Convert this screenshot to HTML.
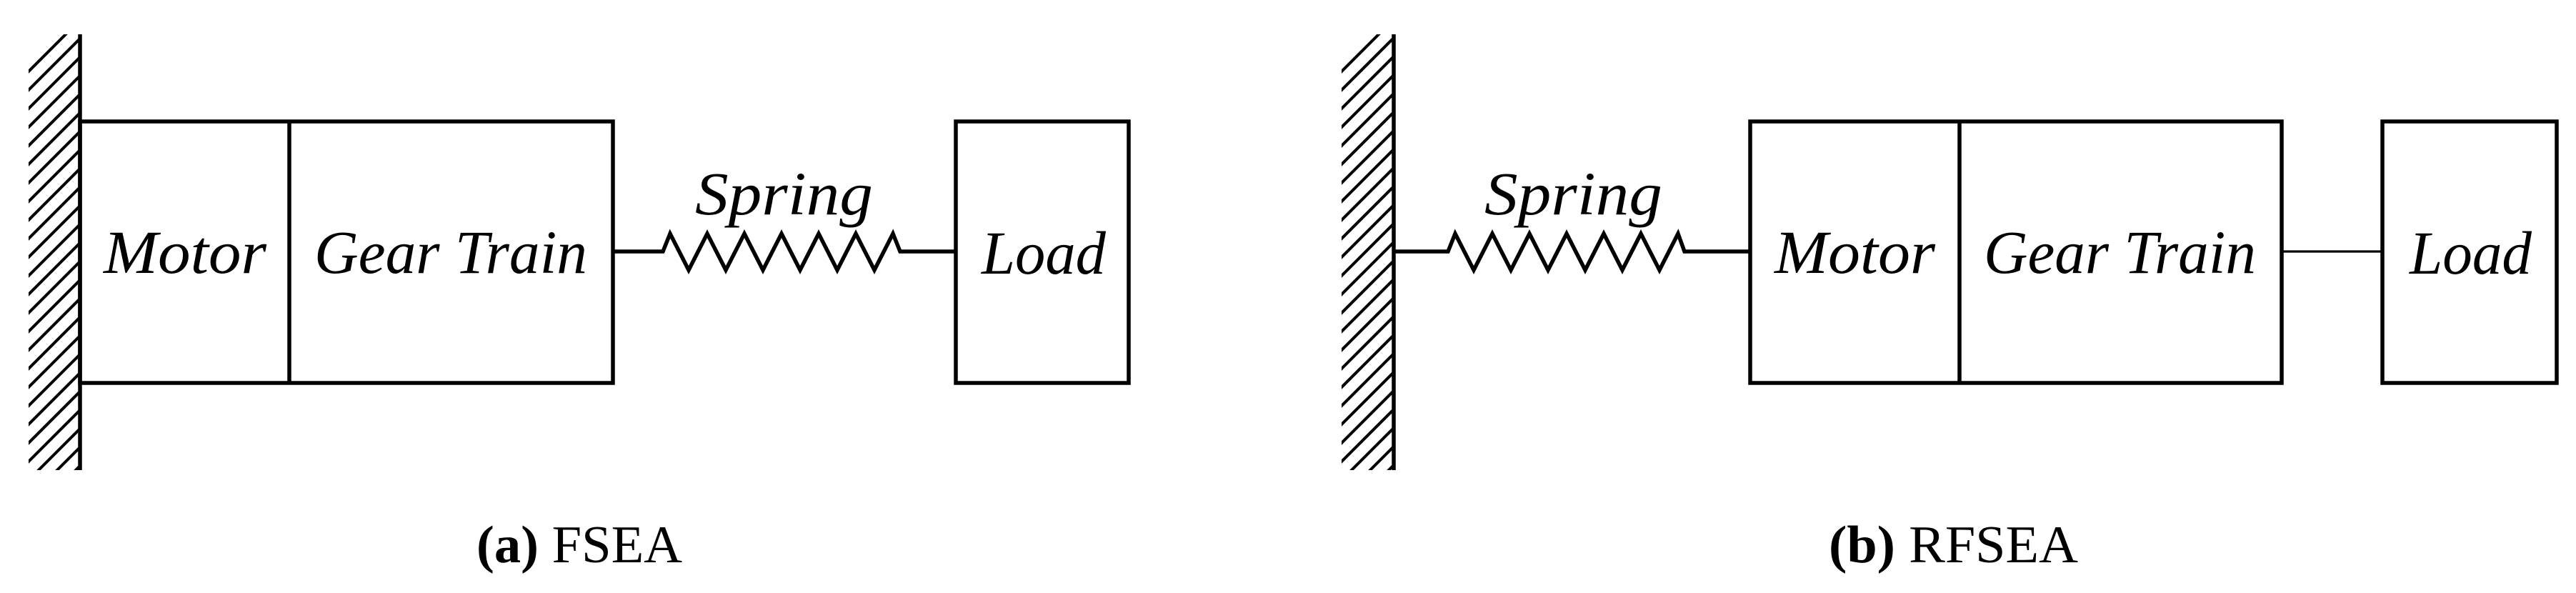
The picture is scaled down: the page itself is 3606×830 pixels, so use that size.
<!DOCTYPE html>
<html><head><meta charset="utf-8"><style>
html,body{margin:0;padding:0;background:#fff;}
svg{display:block;}
text{font-family:"Liberation Serif",serif;font-style:italic;fill:#000;}
</style></head><body>
<svg width="3606" height="830" viewBox="0 0 3606 830" xmlns="http://www.w3.org/2000/svg">
<defs>
<clipPath id="wa"><rect x="40" y="48" width="72" height="610"/></clipPath>
<clipPath id="wb"><rect x="1878" y="48" width="73" height="610"/></clipPath>
</defs>
<g stroke="#000" stroke-width="4" clip-path="url(#wa)">
<path d="M20,120 L140,0 M20,146 L160,6 M20,172 L180,12 M20,198 L200,18 M20,224 L200,44 M20,250 L200,70 M20,276 L200,96 M20,302 L200,122 M20,328 L200,148 M20,354 L200,174 M20,380 L200,200 M20,406 L200,226 M20,432 L200,252 M20,458 L200,278 M20,484 L200,304 M20,510 L200,330 M20,536 L200,356 M20,562 L200,382 M20,588 L200,408 M20,614 L200,434 M20,640 L200,460 M20,666 L200,486 M20,692 L200,512 M20,718 L200,538 M20,744 L200,564 M20,770 L200,590 M20,796 L200,616"/>
</g>
<g stroke="#000" stroke-width="4" clip-path="url(#wb)">
<path d="M1858,120 L1978,0 M1858,146 L1998,6 M1858,172 L2018,12 M1858,198 L2038,18 M1858,224 L2038,44 M1858,250 L2038,70 M1858,276 L2038,96 M1858,302 L2038,122 M1858,328 L2038,148 M1858,354 L2038,174 M1858,380 L2038,200 M1858,406 L2038,226 M1858,432 L2038,252 M1858,458 L2038,278 M1858,484 L2038,304 M1858,510 L2038,330 M1858,536 L2038,356 M1858,562 L2038,382 M1858,588 L2038,408 M1858,614 L2038,434 M1858,640 L2038,460 M1858,666 L2038,486 M1858,692 L2038,512 M1858,718 L2038,538 M1858,744 L2038,564 M1858,770 L2038,590 M1858,796 L2038,616"/>
</g>
<g fill="none" stroke="#000" stroke-width="5.5" stroke-linejoin="miter">
<!-- (a) -->
<line x1="112" y1="48" x2="112" y2="658"/>
<rect x="112" y="170" width="746" height="366"/>
<line x1="405" y1="170" x2="405" y2="536"/>
<polyline points="858,352 928,352 938,327 964,378 990,327 1016,378 1042,327 1068,378 1094,327 1120,378 1146,327 1172,378 1198,327 1224,378 1250,327 1260,352 1338,352"/>
<rect x="1338" y="170" width="242" height="366"/>
<!-- (b) -->
<line x1="1951" y1="48" x2="1951" y2="658"/>
<polyline points="1951,352 2027,352 2037,327 2063,378 2089,327 2115,378 2141,327 2167,378 2193,327 2219,378 2245,327 2271,378 2297,327 2323,378 2349,327 2358,352 2450,352"/>
<rect x="2450" y="170" width="744" height="366"/>
<line x1="2743" y1="170" x2="2743" y2="536"/>
<rect x="3335" y="170" width="244" height="366"/>
</g>
<line x1="3194" y1="352" x2="3335" y2="352" stroke="#000" stroke-width="3.3"/>
<g font-size="86">
<text x="145" y="382" textLength="228" lengthAdjust="spacingAndGlyphs">Motor</text>
<text x="440" y="382" textLength="382" lengthAdjust="spacingAndGlyphs">Gear Train</text>
<text x="973" y="300" textLength="249" lengthAdjust="spacingAndGlyphs">Spring</text>
<text x="1374" y="383" textLength="174" lengthAdjust="spacingAndGlyphs">Load</text>
<text x="2484" y="382" textLength="225" lengthAdjust="spacingAndGlyphs">Motor</text>
<text x="2777" y="382" textLength="381" lengthAdjust="spacingAndGlyphs">Gear Train</text>
<text x="2078" y="300" textLength="249" lengthAdjust="spacingAndGlyphs">Spring</text>
<text x="3373" y="383" textLength="171" lengthAdjust="spacingAndGlyphs">Load</text>
</g>
<text x="667" y="787" font-size="74" style="font-style:normal" textLength="288" lengthAdjust="spacingAndGlyphs"><tspan font-weight="bold">(a)</tspan> FSEA</text>
<text x="2560" y="787" font-size="74" style="font-style:normal" textLength="349" lengthAdjust="spacingAndGlyphs"><tspan font-weight="bold">(b)</tspan> RFSEA</text>
</svg>
</body></html>
